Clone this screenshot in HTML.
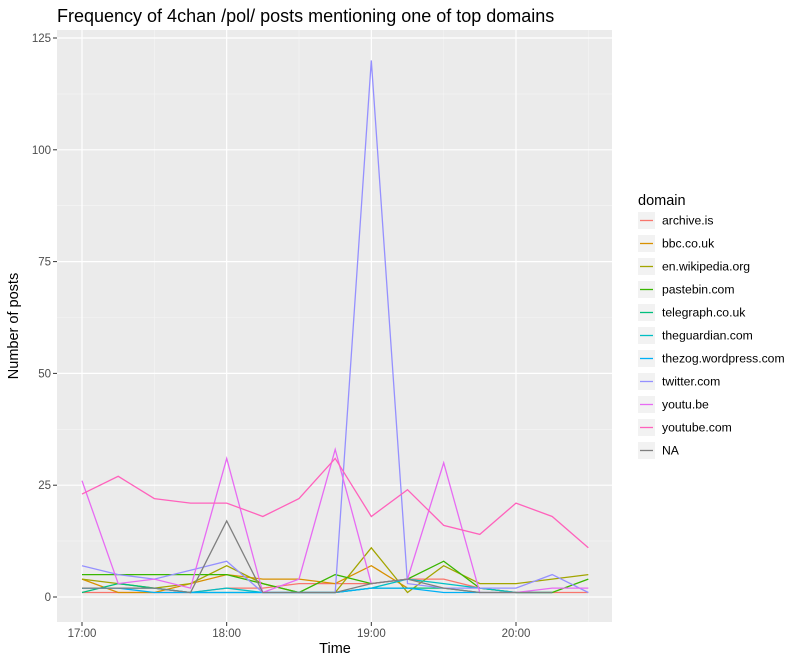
<!DOCTYPE html>
<html><head><meta charset="utf-8"><style>
body{margin:0;background:#fff;font-family:"Liberation Sans",sans-serif;}
</style></head><body>
<svg id="c" width="800" height="660" xmlns="http://www.w3.org/2000/svg" font-family="Liberation Sans, sans-serif"></svg>
<script>
const times=["17:00","17:15","17:30","17:45","18:00","18:15","18:30","18:45","19:00","19:15","19:30","19:45","20:00","20:15","20:30"];
const xTickLabels=["17:00","18:00","19:00","20:00"];
const yTicks=[0,25,50,75,100,125];
const domains=["archive.is","bbc.co.uk","en.wikipedia.org","pastebin.com","telegraph.co.uk","theguardian.com","thezog.wordpress.com","twitter.com","youtu.be","youtube.com","NA"];
const colors=["#F8766D","#D89000","#A3A500","#39B600","#00BF7D","#00BFC4","#00B0F6","#9590FF","#E76BF3","#FF62BC","#7F7F7F"];
const sArchive=[1,1,1,1,2,2,3,3,3,4,4,2,1,1,1];
const sBbc=[4,1,1,3,5,4,4,3,7,2,null,null,null,null,null];
const sWiki=[4,3,2,3,7,3,1,1,11,1,7,3,3,4,5];
const sPaste=[5,5,5,5,5,3,1,5,3,4,8,2,1,1,4];
const sTele=[1,3,2,1,1,1,1,1,2,2,2,1,1,1,null];
const sGuard=[2,2,2,1,2,1,1,1,2,4,3,2,1,1,null];
const sZog=[2,2,1,1,1,1,1,1,2,2,1,1,null,null,null];
const sTwitter=[7,5,4,6,8,1,1,1,120,3,2,2,2,5,1];
const sYoutube=[26,3,4,2,31,1,4,33,3,4,30,1,1,2,2];
const sYoutubeCom=[23,27,22,21,21,18,22,31,18,24,16,14,21,18,11];
const sNA=[2,2,2,1,17,1,1,1,3,4,2,1,1,1,null];
const series=[sArchive,sBbc,sWiki,sPaste,sTele,sGuard,sZog,sTwitter,sYoutube,sYoutubeCom,sNA];

const svg=document.getElementById('c');const NS="http://www.w3.org/2000/svg";
function mk(t,a,p){const e=document.createElementNS(NS,t);for(const k in a)e.setAttribute(k,a[k]);(p||svg).appendChild(e);return e;}
const L=57,R=612,T=30,B=622;
const x=i=>82+i*(516-82)/12;
const y=v=>597-v*(597-38)/125;
let e=mk('rect',{x:L,y:T,width:R-L,height:B-T,fill:'#EBEBEB'});


for(let k=0;k<yTicks.length-1;k++){const v=(yTicks[k]+yTicks[k+1])/2;mk('line',{x1:L,x2:R,y1:y(v),y2:y(v),stroke:'#F5F5F5','stroke-width':0.6});}
for(let k=0;k<4;k++){const xx=x(k*4+2);mk('line',{x1:xx,x2:xx,y1:T,y2:B,stroke:'#F5F5F5','stroke-width':0.6});}
yTicks.forEach(v=>{mk('line',{x1:L,x2:R,y1:y(v),y2:y(v),stroke:'#fff','stroke-width':1.2});
mk('line',{x1:L-4,x2:L,y1:y(v),y2:y(v),stroke:'#333'});
const t=mk('text',{x:L-6,y:y(v)+4,'text-anchor':'end','font-size':11.5,fill:'#4D4D4D'});t.textContent=v;

});
xTickLabels.forEach((lab,k)=>{const xx=x(k*4);mk('line',{x1:xx,x2:xx,y1:T,y2:B,stroke:'#fff','stroke-width':1.2});
mk('line',{x1:xx,x2:xx,y1:B,y2:B+4,stroke:'#333'});
const t=mk('text',{x:xx,y:B+15,'text-anchor':'middle','font-size':11.5,fill:'#4D4D4D'});t.textContent=lab;

});
series.forEach((s,si)=>{let d='';let pen=false;s.forEach((v,i)=>{if(v==null){pen=false;return;}d+=(pen?'L':'M')+x(i).toFixed(1)+','+y(v).toFixed(1);pen=true;});
const p=mk('path',{d:d,fill:'none',stroke:colors[si],'stroke-width':1.3});

});
let t=mk('text',{x:57,y:22,'font-size':18,fill:'#000'});t.textContent="Frequency of 4chan /pol/ posts mentioning one of top domains";


t=mk('text',{x:335,y:653,'text-anchor':'middle','font-size':14.5,fill:'#000'});t.textContent="Time";


t=mk('text',{x:0,y:0,'text-anchor':'middle','font-size':14.5,fill:'#000',transform:'translate(18,326) rotate(-90)'});t.textContent="Number of posts";


t=mk('text',{x:638,y:205,'font-size':14.5,fill:'#000'});t.textContent="domain";


domains.forEach((dm,i)=>{const g=mk('g',{});


const yy=212+i*23;mk('rect',{x:638,y:yy,width:17,height:17,fill:'#F2F2F2'},g);
mk('line',{x1:640,x2:653,y1:yy+8.5,y2:yy+8.5,stroke:colors[i],'stroke-width':1.3},g);
const tt=mk('text',{x:662,y:yy+12.5,'font-size':12.2,fill:'#000'},g);tt.textContent=dm;});
</script>
</body></html>
